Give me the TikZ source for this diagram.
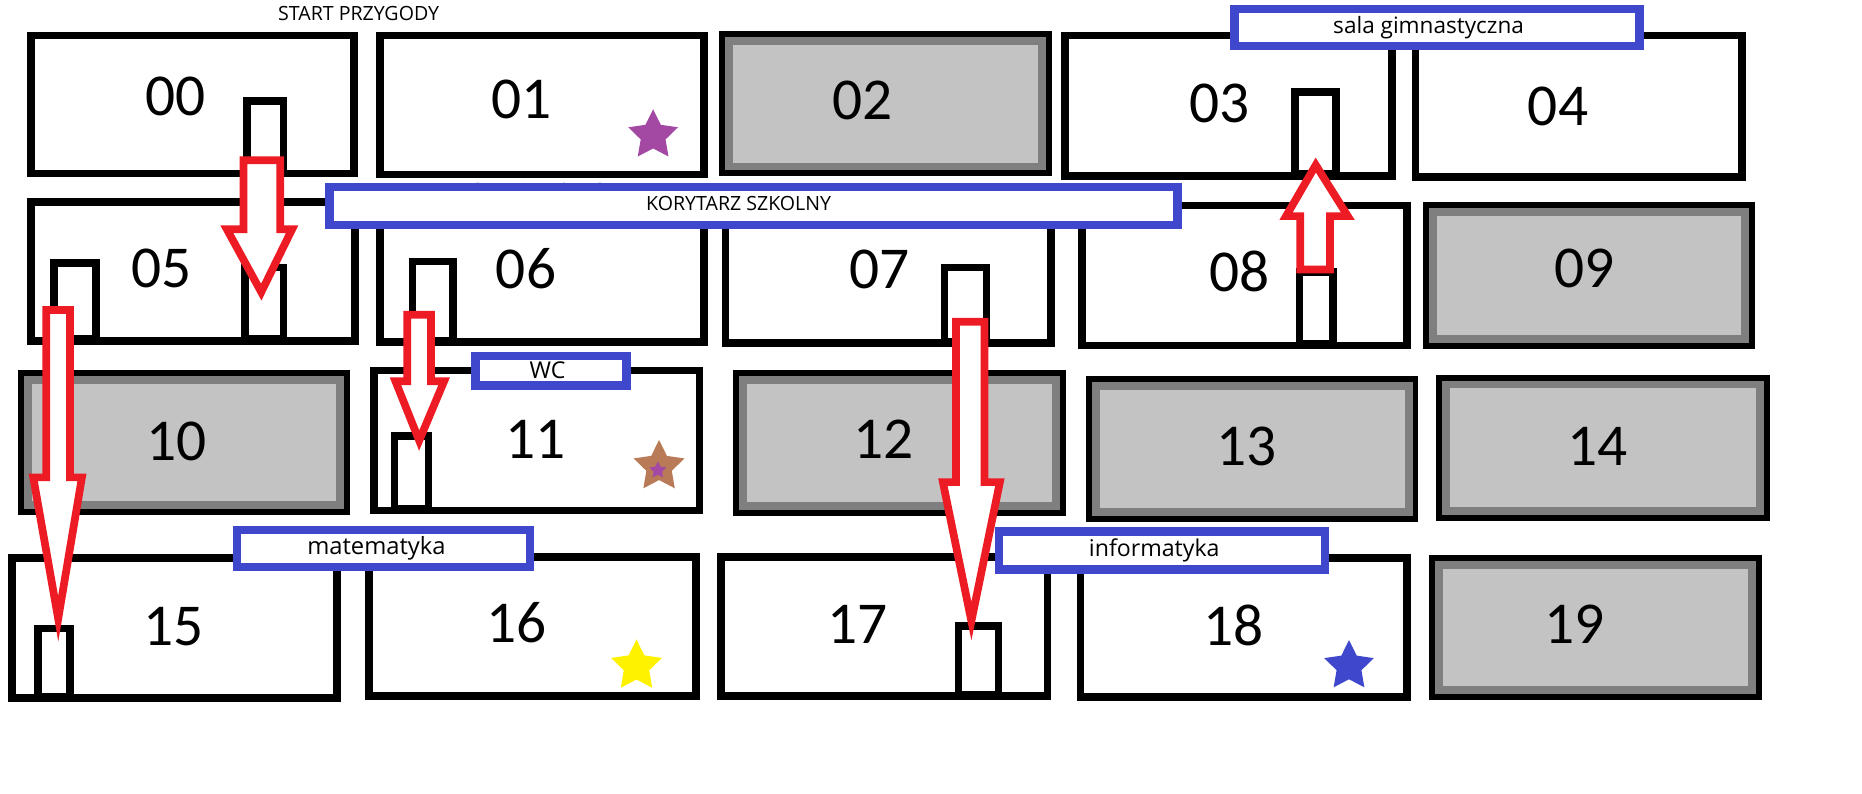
\documentclass[tikz,border=0pt]{standalone}
\usepackage{fontspec}
\setmainfont{Carlito}
\newfontfamily\labelfont{Open Sans}
\usepackage{tikz}
\usetikzlibrary{shapes.geometric}
\definecolor{bandgray}{RGB}{127,127,127}
\definecolor{roomgray}{RGB}{195,195,195}
\definecolor{tagblue}{RGB}{63,72,204}
\definecolor{arrowred}{RGB}{237,28,36}
\definecolor{starpurple}{RGB}{163,73,164}
\definecolor{starbrown}{RGB}{185,122,87}
\definecolor{staryellow}{RGB}{255,242,0}

\begin{document}
\begin{tikzpicture}[
    x=1pt, y=-1pt,
    wroom/.style={draw,line width=6.5pt,fill=white,inner sep=0pt},
    groom/.style={draw,line width=5pt,fill=bandgray,inner sep=0pt,
      path picture={\fill[roomgray] ([shift={(9pt,-9pt)}]path picture bounding box.north west)
        rectangle ([shift={(-9pt,9pt)}]path picture bounding box.south east);}},
    door/.style={draw,line width=6.5pt,fill=white,inner sep=0pt},
    tag/.style={draw=tagblue,line width=7pt,fill=white,inner sep=0pt},
    num/.style={font=\fontsize{50}{50}\selectfont,inner sep=0pt},
    tagtext/.style={font=\labelfont\fontsize{#1}{#1}\selectfont,anchor=base,inner sep=0pt},
    prize/.style={star,star points=5,star point ratio=2.0,minimum size=#1,inner sep=0pt},
    way/.style={draw=arrowred,line width=6.5pt,fill=white,line join=miter}
  ]
    \fill[white] (0,0) rectangle (1568,668);
    \useasboundingbox (0,0) rectangle (1568,668);

    % rooms: name / left / top / right / bottom / kind
    \foreach \n/\xa/\ya/\xb/\yb/\k in {00/23/27/301/149/w, 01/317/27/596/150/w, 02/605/26/886/149/g,
        03/894/27/1175/151/w, 04/1189/27/1470/152/w, 05/23/167/302/290/w, 06/317/168/596/291/w,
        07/608/170/888/292/w, 08/908/170/1188/294/w, 09/1198/170/1478/294/g, 10/15/311/295/434/g,
        11/312/309/592/433/w, 12/617/311/898/435/g, 13/914/316/1195/440/g, 14/1209/315/1491/439/g,
        15/7/467/287/591/w, 16/308/466/589/589/w, 17/604/466/885/589/w, 18/907/467/1188/590/w,
        19/1203/467/1484/590/g} {
      \pgfmathsetmacro\w{\xb-\xa-6}
      \pgfmathsetmacro\h{\yb-\ya-6}
      \node[\k room,minimum width=\w pt,minimum height=\h pt] (r\n) at ({(\xa+\xb)/2},{(\ya+\yb)/2}) {};
    }
    \foreach \n/\x/\y in {00/148/81, 01/439/84, 02/726/85, 03/1027/87, 04/1312/90,
        05/136/226, 06/443/226, 07/741/227, 08/1044/229, 09/1334/226,
        10/149/372, 11/451/370, 12/744/370, 13/1050/376, 14/1345/376,
        15/146/528, 16/435/524, 17/722/526, 18/1039/527, 19/1326/526}
      \node[num] (t\n) at (\x,\y) {\n};

    % doors
    \foreach \n/\xa/\ya/\xb/\yb in {00/205/82/242/149, 03/1087/74/1128/150, 05a/42/218/84/289,
        05b/203/222/242/289, 06/344/217/385/290, 07/792/222/834/291, 08/1091/226/1126/293,
        11/329/364/364/432, 15/29/526/62/590, 17/804/524/844/588} {
      \pgfmathsetmacro\w{\xb-\xa-6.5}
      \pgfmathsetmacro\h{\yb-\ya-6.5}
      \node[door,minimum width=\w pt,minimum height=\h pt] (d\n) at ({(\xa+\xb)/2},{(\ya+\yb)/2}) {};
    }

    \node[prize=44pt,fill=starpurple] (s01) at (550,114) {};
    \node[prize=45pt,fill=starbrown] (s11) at (555,393) {};
    \node[prize=15pt,fill=starpurple] (s11b) at (554,396) {};
    \node[prize=45pt,fill=staryellow] (s16) at (536,561) {};
    \node[prize=44pt,fill=tagblue] (s18) at (1136,561) {};

    \node[tagtext=16.5] (start) at (302,17.5) {START PRZYGODY};
    \node[tagtext=16.5] (under) at (464,166) {KORYTARZ SZKOLNY};

    % name tags
    \foreach \n/\xa/\ya/\xb/\yb in {sala/1036/4/1384/42, korytarz/274/154/995/193, wc/397/296/531/328,
        mat/196/443/450/481, inf/838/444/1119/483} {
      \pgfmathsetmacro\w{\xb-\xa-7}
      \pgfmathsetmacro\h{\yb-\ya-7}
      \node[tag,minimum width=\w pt,minimum height=\h pt] (b\n) at ({(\xa+\xb)/2},{(\ya+\yb)/2}) {};
    }
    \node[tagtext=19] (lsala) at (1203,28.5) {sala gimnastyczna};
    \node[tagtext=16.5] (lkorytarz) at (622,177) {KORYTARZ SZKOLNY};
    \node[tagtext=19.5] (lwc) at (461,319) {WC};
    \node[tagtext=20] (lmat) at (317,467) {matematyka};
    \node[tagtext=19.5] (linf) at (972,469) {informatyka};

    % way through the school
    \draw[way] (205,135) -- (236,135) -- (236,193) -- (246,193) -- (220,246) -- (191,193) -- (205,193) -- cycle;
    \draw[way] (39,261) -- (59,261) -- (59,402) -- (69,402) -- (49,521) -- (28,402) -- (39,402) -- cycle;
    \draw[way] (343,265) -- (363,265) -- (363,321) -- (374,321) -- (353,371) -- (333,321) -- (343,321) -- cycle;
    \draw[way] (805,271) -- (829,271) -- (829,406) -- (842,406) -- (818,523) -- (794,406) -- (805,406) -- cycle;
    \draw[way] (1095,227) -- (1120,227) -- (1120,182) -- (1135,182) -- (1108,139) -- (1083,182) -- (1095,182) -- cycle;
  \end{tikzpicture}
\end{document}
